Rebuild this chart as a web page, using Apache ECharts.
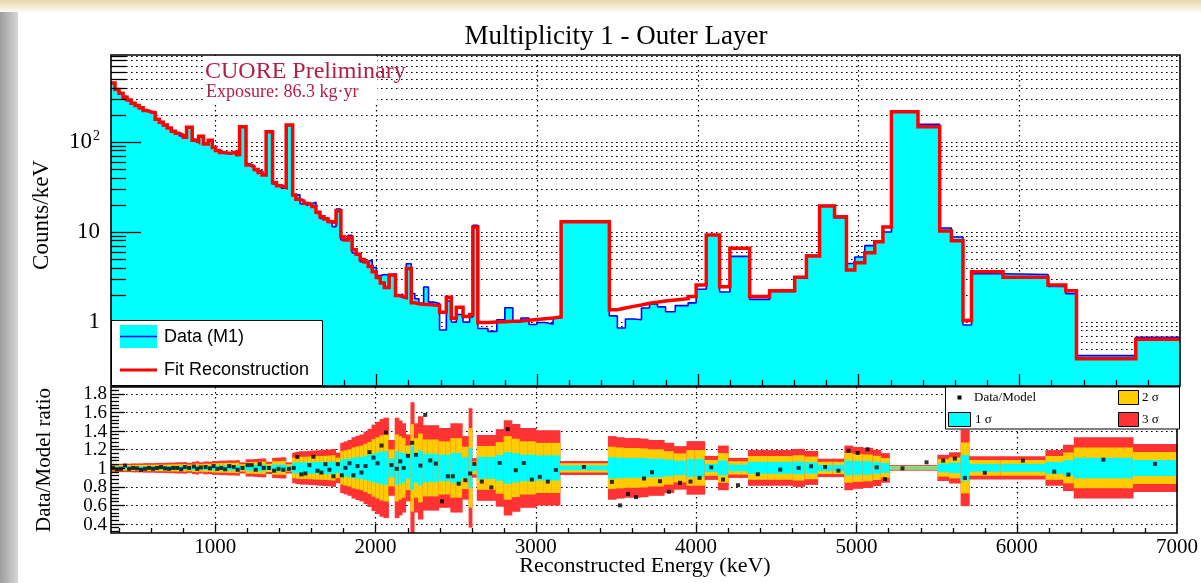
<!DOCTYPE html>
<html>
<head>
<meta charset="utf-8">
<script src="https://cdn.jsdelivr.net/npm/echarts@6/dist/echarts.min.js"></script>
<style>
  html, body { margin: 0; padding: 0; background: #ffffff; }
  #chart { width: 1201px; height: 583px; }
</style>
</head>
<body>
<div id="chart"></div>
<script>
// Variable-width energy bins (keV), shared by the spectrum and the ratio panel
const binEdges = [
  350, 375, 400, 425, 450, 475, 500, 525, 550, 575, 600, 625, 650, 675, 700, 725, 750, 775, 800,
  820, 855, 880, 895, 925, 955, 980, 1000,
  1025, 1050, 1075, 1100, 1130, 1150, 1190,
  1215, 1240, 1265, 1290, 1315, 1355, 1380, 1410, 1440, 1480,
  1500, 1525, 1550, 1575, 1600, 1625, 1650, 1675, 1700, 1725, 1750, 1780,
  1800, 1825, 1850, 1875, 1900, 1925, 1950, 1975, 2000, 2025, 2050, 2080, 2120,
  2145, 2165, 2187, 2218, 2240, 2265,
  2295, 2325, 2358, 2394, 2436, 2467, 2498, 2540, 2581, 2601, 2632,
  2695, 2750, 2800, 2850, 2900, 2950, 3000, 3050, 3100, 3150,
  3450, 3500, 3550, 3600, 3650, 3700, 3750, 3800, 3860, 3940, 3990, 4053,
  4136, 4200, 4323, 4447, 4603, 4676, 4758, 4851, 4925, 4977, 5039, 5101, 5152, 5205,
  5370, 5505, 5578, 5650, 5703, 5899, 6179, 6289, 6356, 6725, 7000
];

// Fit reconstruction, counts/keV per bin
const fitCounts = [
  450, 380, 345, 312, 290, 268, 252, 238, 222, 214,
  210, 178, 165, 153, 142, 131, 124, 118, 112, 145,
  104, 100, 115, 94, 104, 86, 80, 76, 75, 74.5,
  77, 72, 147, 55, 52.7, 49, 45.5, 42.6, 129, 35,
  32.5, 31, 153, 25.5, 23, 22, 20.7, 20, 19, 16.5,
  14.7, 13.8, 13, 12.5, 17.1, 8.8, 8.1, 8.7, 6.3, 5.6,
  4.9, 4.6, 4.1, 3.6, 3.1, 2.7, 2.4, 3.3, 1.95, 1.9,
  1.85, 3.9, 1.62, 1.58, 1.56, 1.55, 1.53, 1.52, 1.27, 1.87,
  1.09, 1.45, 1.14, 1.2, 11.3, 0.98, 0.99, 1.0, 1.01, 1.02,
  1.04, 1.06, 1.08, 1.1, 1.13, 12.9, 1.36, 1.42, 1.48, 1.53,
  1.6, 1.65, 1.7, 1.74, 1.8, 1.9, 2.56, 9.2, 2.45, 6.53,
  1.9, 2.21, 3.11, 5.37, 19.3, 14.7, 3.75, 4.52, 5.84, 7.74,
  11.3, 215, 147, 10.2, 7.93, 1.03, 3.6, 3.11, 2.56, 2.21,
  0.388, 0.64
];

// Measured spectrum (M1), counts/keV per bin
const dataCounts = [
  450, 374, 342, 320, 287, 268, 251, 233, 220, 214,
  208, 178, 167, 152, 141, 131, 124, 116, 113, 145,
  106, 99, 116, 95, 103, 88, 79, 76, 74, 76,
  78, 70.5, 147, 56.7, 54.3, 48, 47.3, 42.6, 129, 34,
  32.2, 30.4, 151.5, 25.5, 25.7, 20.5, 19.5, 20.6, 21.3, 16,
  14, 14.4, 12.7, 11.4, 17.8, 8.1, 8.1, 9.1, 5.8, 5.7,
  4.65, 4.7, 4.8, 4.0, 3.25, 3.35, 3.3, 3.4, 1.93, 2.03,
  1.85, 4.4, 2.06, 1.8, 1.6, 2.43, 1.65, 1.59, 0.81, 1.7,
  0.99, 1.2, 0.99, 1.13, 11.8, 0.84, 0.78, 1.05, 1.43, 0.99,
  1.1, 0.93, 0.98, 0.94, 1.1, 13.0, 1.16, 0.85, 1.07, 1.05,
  1.42, 1.57, 1.46, 1.29, 1.51, 1.62, 2.29, 9.25, 2.14, 5.32,
  1.77, 2.17, 3.11, 5.47, 19.5, 14.3, 4.44, 5.24, 7.0, 7.79,
  9.94, 214, 156, 11.0, 8.72, 0.92, 3.41, 3.35, 2.46, 2.05,
  0.42, 0.67
];

// Data/Model ratio per bin
const ratioValues = [
  1.0, 0.985, 0.99, 1.025, 0.99, 1.0, 0.995, 0.98, 0.99, 1.0,
  0.99, 1.0, 1.01, 0.995, 0.99, 1.0, 1.0, 0.985, 1.01, 1.0,
  1.015, 0.99, 1.005, 1.01, 0.995, 1.02, 0.99, 1.0, 0.985, 1.02,
  1.01, 0.98, 1.0, 1.03, 1.03, 0.98, 1.04, 1.0, 1.0, 0.97,
  0.99, 0.98, 0.99, 1.0, 1.118, 0.93, 0.94, 1.03, 1.12, 0.97,
  0.95, 1.04, 0.98, 0.91, 1.04, 0.92, 1.0, 1.05, 0.92, 1.02,
  0.95, 1.02, 1.17, 1.11, 1.05, 1.24, 1.38, 1.03, 0.99, 1.07,
  1.0, 1.13, 1.27, 1.14, 1.025, 1.57, 1.08, 1.046, 0.64, 0.91,
  0.91, 0.83, 0.867, 0.94, 1.043, 0.853, 0.79, 1.053, 1.417, 0.975,
  1.053, 0.875, 0.904, 0.853, 0.978, 1.01, 0.85, 0.597, 0.72, 0.686,
  0.886, 0.953, 0.857, 0.743, 0.84, 0.853, 0.893, 1.006, 0.875, 0.814,
  0.932, 0.982, 1.0, 1.018, 1.01, 0.97, 1.185, 1.16, 1.2, 1.006,
  0.88, 0.996, 1.06, 1.078, 1.1, 0.893, 0.947, 1.078, 0.96, 0.928,
  1.089, 1.043
];

// One-sigma half width of the ratio per bin (bands show 1, 2 and 3 sigma)
const sigmaRatio = [
  0.014, 0.014, 0.015, 0.015, 0.015, 0.016, 0.016, 0.016, 0.017, 0.017,
  0.017, 0.018, 0.018, 0.018, 0.019, 0.019, 0.02, 0.02, 0.021, 0.018,
  0.022, 0.024, 0.02, 0.023, 0.022, 0.025, 0.025, 0.026, 0.026, 0.027,
  0.027, 0.028, 0.02, 0.031, 0.031, 0.032, 0.033, 0.034, 0.022, 0.036,
  0.037, 0.038, 0.02, 0.055, 0.058, 0.06, 0.06, 0.061, 0.062, 0.063,
  0.064, 0.065, 0.066, 0.068, 0.055, 0.09, 0.095, 0.1, 0.11, 0.115,
  0.12, 0.13, 0.14, 0.155, 0.165, 0.175, 0.18, 0.1, 0.18, 0.17,
  0.16, 0.12, 0.235, 0.16, 0.185, 0.153, 0.153, 0.153, 0.143, 0.143,
  0.16, 0.16, 0.114, 0.214, 0.035, 0.118, 0.118, 0.139, 0.171, 0.157,
  0.143, 0.143, 0.135, 0.135, 0.135, 0.025, 0.114, 0.11, 0.107, 0.107,
  0.105, 0.1, 0.1, 0.09, 0.078, 0.096, 0.096, 0.043, 0.08, 0.036,
  0.064, 0.064, 0.068, 0.061, 0.033, 0.033, 0.08, 0.075, 0.072, 0.065,
  0.053, 0.01, 0.01, 0.047, 0.056, 0.137, 0.042, 0.042, 0.064, 0.083,
  0.11, 0.086
];

// Tick labels
const energyTickLabels = [1000, 2000, 3000, 4000, 5000, 6000, 7000];
const countsTickLabels = [1, 10, 100];
const ratioTickLabels = ['1.8', '1.6', '1.4', '1.2', '1', '0.8', '0.6', '0.4'];

// Axis ranges
const E_MIN = 350, E_MAX = 7000;
const C_MIN = 0.193, C_MAX = 919;
const R_MIN = 0.3, R_MAX = 1.87;

const SERIF = '"Liberation Serif", "DejaVu Serif", serif';
const SANS = '"Liberation Sans", Arial, sans-serif';

// Step outline of a histogram: two points per bin
function stepPoints(values) {
  const pts = [];
  for (let i = 0; i < values.length; i++) {
    pts.push([binEdges[i], values[i]]);
    pts.push([binEdges[i + 1], values[i]]);
  }
  return pts;
}

// Log-axis grid levels: 1..9 x 10^n inside the range
const countGridLevels = [];
[0.1, 1, 10, 100].forEach(function (dec) {
  for (let m = 1; m <= 9; m++) {
    const v = +(m * dec).toPrecision(3);
    if (v > C_MIN && v < C_MAX) countGridLevels.push(v);
  }
});
const energyGridLines = energyTickLabels.filter(function (e) { return e < E_MAX; });
const energyMinorTicks = [];
for (let e = 400; e < E_MAX; e += 200) energyMinorTicks.push(e);
const ratioMinorTicks = [];
for (let k = 8; k <= 46; k++) ratioMinorTicks.push(+(k * 0.04).toFixed(2));

const DOT = { stroke: '#000', lineWidth: 1.2, lineDash: [1.6, 3.4] };
const SOLID = { stroke: '#000', lineWidth: 1.3 };

function hLine(x1, x2, y, style) { return { type: 'line', shape: { x1: x1, y1: y, x2: x2, y2: y }, style: style }; }
function vLine(x, y1, y2, style) { return { type: 'line', shape: { x1: x, y1: y1, x2: x, y2: y2 }, style: style }; }

// Dotted grid of the spectrum panel
function renderTopGrid(params, api) {
  const cs = params.coordSys;
  const kids = [];
  countGridLevels.forEach(function (v) {
    const y = Math.round(api.coord([E_MIN, v])[1]) + 0.5;
    kids.push(hLine(cs.x, cs.x + cs.width, y, DOT));
  });
  energyGridLines.forEach(function (e) {
    const x = Math.round(api.coord([e, C_MIN])[0]) + 0.5;
    kids.push(vLine(x, cs.y, cs.y + cs.height, DOT));
  });
  return { type: 'group', children: kids };
}

// Ticks and frame of the spectrum panel
function renderTopAxes(params, api) {
  const cs = params.coordSys;
  const kids = [];
  const bottom = cs.y + cs.height;
  countGridLevels.forEach(function (v) {
    const y = Math.round(api.coord([E_MIN, v])[1]) + 0.5;
    const major = countsTickLabels.indexOf(v) >= 0;
    kids.push(hLine(cs.x, cs.x + (major ? 30 : 15), y, SOLID));
  });
  energyMinorTicks.forEach(function (e) {
    const x = Math.round(api.coord([e, C_MIN])[0]) + 0.5;
    const major = e % 1000 === 0;
    kids.push(vLine(x, bottom, bottom - (major ? 12 : 6), SOLID));
  });
  kids.push({ type: 'rect', shape: { x: cs.x, y: cs.y, width: cs.width, height: cs.height },
    style: { fill: null, stroke: '#000', lineWidth: 1.6 } });
  return { type: 'group', children: kids };
}

// Dotted grid of the ratio panel
function renderBottomGrid(params, api) {
  const cs = params.coordSys;
  const kids = [];
  ratioTickLabels.forEach(function (r) {
    const y = Math.round(api.coord([E_MIN, +r])[1]) + 0.5;
    kids.push(hLine(cs.x, cs.x + cs.width, y, DOT));
  });
  energyGridLines.forEach(function (e) {
    const x = Math.round(api.coord([e, R_MIN])[0]) + 0.5;
    kids.push(vLine(x, cs.y, cs.y + cs.height, DOT));
  });
  return { type: 'group', children: kids };
}

// Ticks, tick labels and frame of the ratio panel
function renderBottomAxes(params, api) {
  const cs = params.coordSys;
  const kids = [];
  const bottom = cs.y + cs.height;
  ratioMinorTicks.forEach(function (r) {
    const y = Math.round(api.coord([E_MIN, r])[1]) + 0.5;
    const major = Math.abs(r * 5 - Math.round(r * 5)) < 1e-6;
    kids.push(hLine(cs.x, cs.x + (major ? 14 : 8), y, SOLID));
  });
  ratioTickLabels.forEach(function (r) {
    const y = api.coord([E_MIN, +r])[1];
    kids.push({ type: 'text', x: cs.x - 4, y: y + 1,
      style: { text: r, font: '19px ' + SERIF, fill: '#000', align: 'right', verticalAlign: 'middle' } });
  });
  energyMinorTicks.forEach(function (e) {
    const x = Math.round(api.coord([e, R_MIN])[0]) + 0.5;
    const major = e % 1000 === 0;
    kids.push(vLine(x, bottom, bottom - (major ? 9 : 5), SOLID));
  });
  kids.push({ type: 'rect', shape: { x: cs.x, y: cs.y, width: cs.width, height: cs.height },
    style: { fill: null, stroke: '#000', lineWidth: 1.6 } });
  return { type: 'group', children: kids };
}

// 1/2/3 sigma bands of the ratio, one column per bin
const bandColors = ['#ff3333', '#ffcc00', '#00ffff'];
function renderBands(params, api) {
  const cs = params.coordSys;
  const lo = api.value(0), hi = api.value(1), s = api.value(2);
  const kids = [];
  [3, 2, 1].forEach(function (k, idx) {
    const p1 = api.coord([lo, 1 + k * s]);
    const p2 = api.coord([hi, 1 - k * s]);
    const yTop = Math.max(cs.y, p1[1]);
    const yBot = Math.min(cs.y + cs.height, p2[1]);
    kids.push({ type: 'rect', shape: { x: p1[0], y: yTop, width: p2[0] - p1[0] + 0.6, height: yBot - yTop },
      style: { fill: bandColors[idx] } });
  });
  return { type: 'group', children: kids };
}

const bandData = sigmaRatio.map(function (s, i) { return [binEdges[i], binEdges[i + 1], s]; });
const ratioPoints = ratioValues.map(function (r, i) { return [(binEdges[i] + binEdges[i + 1]) / 2, r]; });

const chart = echarts.init(document.getElementById('chart'), null, { renderer: 'canvas' });

chart.setOption({
  animation: false,
  backgroundColor: '#ffffff',
  grid: [
    { left: 111, top: 55, width: 1069, height: 331 },
    { left: 111, top: 387, width: 1069, height: 146 }
  ],
  xAxis: [
    { type: 'value', gridIndex: 0, min: E_MIN, max: E_MAX,
      axisLine: { show: false }, axisTick: { show: false }, splitLine: { show: false },
      axisLabel: { show: false } },
    { type: 'value', gridIndex: 1, min: E_MIN, max: E_MAX,
      axisLine: { show: false }, axisTick: { show: false }, splitLine: { show: false },
      axisLabel: { show: true, customValues: energyTickLabels, margin: 4,
        fontFamily: SERIF, fontSize: 21, color: '#000',
        formatter: function (v) { return String(v); } } }
  ],
  yAxis: [
    { type: 'log', gridIndex: 0, logBase: 10, min: C_MIN, max: C_MAX,
      axisLine: { show: false }, axisTick: { show: false }, splitLine: { show: false },
      axisLabel: { show: true, margin: 11, fontFamily: SERIF, fontSize: 23, color: '#000',
        formatter: function (v) {
          for (let i = 0; i < countsTickLabels.length; i++) {
            const t = countsTickLabels[i];
            if (Math.abs(v - t) / t < 1e-6) return t === 100 ? '10{sup|2}' : String(t);
          }
          return '';
        },
        rich: { sup: { fontFamily: SERIF, fontSize: 14, color: '#000', verticalAlign: 'top', padding: [0, 0, 10, 1] } }
      } },
    { type: 'value', gridIndex: 1, min: R_MIN, max: R_MAX,
      axisLine: { show: false }, axisTick: { show: false }, splitLine: { show: false },
      axisLabel: { show: false } }
  ],
  series: [
    { type: 'custom', name: 'gridTop', xAxisIndex: 0, yAxisIndex: 0, data: [[1000, 1]],
      renderItem: renderTopGrid, z: 1, silent: true },
    { type: 'line', name: 'Data (M1)', xAxisIndex: 0, yAxisIndex: 0, data: stepPoints(dataCounts),
      showSymbol: false, symbol: 'none', z: 2,
      lineStyle: { color: '#0000ff', width: 1.6 },
      areaStyle: { color: '#00ffff', opacity: 1, origin: 'start' } },
    { type: 'line', name: 'Fit Reconstruction', xAxisIndex: 0, yAxisIndex: 0, data: stepPoints(fitCounts),
      showSymbol: false, symbol: 'none', z: 3,
      lineStyle: { color: '#ff0000', width: 3.5, join: 'miter' } },
    { type: 'custom', name: 'axesTop', xAxisIndex: 0, yAxisIndex: 0, data: [[1000, 1]],
      renderItem: renderTopAxes, z: 6, silent: true },

    { type: 'custom', name: 'gridBottom', xAxisIndex: 1, yAxisIndex: 1, data: [[1000, 1]],
      renderItem: renderBottomGrid, z: 1, silent: true },
    { type: 'custom', name: 'bands', xAxisIndex: 1, yAxisIndex: 1, data: bandData,
      encode: { x: [0, 1], y: 2 }, renderItem: renderBands, z: 2, silent: true },
    { type: 'scatter', name: 'Data/Model', xAxisIndex: 1, yAxisIndex: 1, data: ratioPoints,
      symbol: 'rect', symbolSize: 4, itemStyle: { color: '#000' }, z: 4 },
    { type: 'custom', name: 'axesBottom', xAxisIndex: 1, yAxisIndex: 1, data: [[1000, 1]],
      renderItem: renderBottomAxes, z: 6, silent: true }
  ],
  graphic: [
    // page edges
    { type: 'rect', z: 0, shape: { x: 0, y: 0, width: 18, height: 583 },
      style: { fill: new echarts.graphic.LinearGradient(0, 0, 1, 0, [
        { offset: 0, color: '#9e9e9e' }, { offset: 1, color: '#d6d6d6' }]) } },
    { type: 'rect', z: 0, shape: { x: 0, y: 0, width: 1201, height: 12 },
      style: { fill: new echarts.graphic.LinearGradient(0, 0, 0, 1, [
        { offset: 0, color: '#e9d8ae' }, { offset: 1, color: '#fdfaf2' }]) } },

    // title and axis titles
    { type: 'text', z: 20, x: 616, y: 37,
      style: { text: 'Multiplicity 1 - Outer Layer', font: '27px ' + SERIF, fill: '#000', align: 'center', verticalAlign: 'middle' } },
    { type: 'text', z: 20, x: 42, y: 215, rotation: Math.PI / 2,
      style: { text: 'Counts/keV', font: '23px ' + SERIF, fill: '#000', align: 'center', verticalAlign: 'middle' } },
    { type: 'text', z: 20, x: 44, y: 460, rotation: Math.PI / 2,
      style: { text: 'Data/Model ratio', font: '21px ' + SERIF, fill: '#000', align: 'center', verticalAlign: 'middle' } },
    { type: 'text', z: 20, x: 645, y: 566,
      style: { text: 'Reconstructed Energy (keV)', font: '22px ' + SERIF, fill: '#000', align: 'center', verticalAlign: 'middle' } },

    // CUORE label
    { type: 'rect', z: 15, shape: { x: 203, y: 56, width: 174, height: 47 }, style: { fill: '#fff' } },
    { type: 'text', z: 20, x: 205, y: 72,
      style: { text: 'CUORE Preliminary', font: '24px ' + SERIF, fill: '#b41e46', align: 'left', verticalAlign: 'middle' } },
    { type: 'text', z: 20, x: 206, y: 92,
      style: { text: 'Exposure: 86.3 kg\u00b7yr', font: '18px ' + SERIF, fill: '#b41e46', align: 'left', verticalAlign: 'middle' } },

    // spectrum legend
    { type: 'rect', z: 15, shape: { x: 111.5, y: 320.5, width: 211, height: 65 },
      style: { fill: '#fff', stroke: '#000', lineWidth: 1 } },
    { type: 'rect', z: 16, shape: { x: 120, y: 325, width: 37, height: 23 }, style: { fill: '#00ffff' } },
    { type: 'line', z: 17, shape: { x1: 120, y1: 336.5, x2: 157, y2: 336.5 }, style: { stroke: '#0000ff', lineWidth: 1.5 } },
    { type: 'text', z: 17, x: 164, y: 337,
      style: { text: 'Data (M1)', font: '18px ' + SANS, fill: '#000', align: 'left', verticalAlign: 'middle' } },
    { type: 'line', z: 17, shape: { x1: 120, y1: 370, x2: 157, y2: 370 }, style: { stroke: '#ff0000', lineWidth: 3 } },
    { type: 'text', z: 17, x: 164, y: 370,
      style: { text: 'Fit Reconstruction', font: '18px ' + SANS, fill: '#000', align: 'left', verticalAlign: 'middle' } },

    // ratio legend
    { type: 'rect', z: 15, shape: { x: 945.5, y: 387, width: 234, height: 42 },
      style: { fill: '#fff', stroke: '#000', lineWidth: 1 } },
    { type: 'rect', z: 16, shape: { x: 957.5, y: 395.5, width: 4, height: 4 }, style: { fill: '#000' } },
    { type: 'text', z: 17, x: 974, y: 397.5,
      style: { text: 'Data/Model', font: '13px ' + SERIF, fill: '#000', align: 'left', verticalAlign: 'middle' } },
    { type: 'rect', z: 16, shape: { x: 1118.5, y: 390.5, width: 20, height: 14 },
      style: { fill: '#ffcc00', stroke: '#000', lineWidth: 1 } },
    { type: 'text', z: 17, x: 1142, y: 397.5,
      style: { text: '2 \u03c3', font: '13px ' + SERIF, fill: '#000', align: 'left', verticalAlign: 'middle' } },
    { type: 'rect', z: 16, shape: { x: 948.5, y: 412.5, width: 22, height: 14 },
      style: { fill: '#00ffff', stroke: '#000', lineWidth: 1 } },
    { type: 'text', z: 17, x: 975, y: 420,
      style: { text: '1 \u03c3', font: '13px ' + SERIF, fill: '#000', align: 'left', verticalAlign: 'middle' } },
    { type: 'rect', z: 16, shape: { x: 1118.5, y: 412.5, width: 20, height: 14 },
      style: { fill: '#ff3333', stroke: '#000', lineWidth: 1 } },
    { type: 'text', z: 17, x: 1142, y: 420,
      style: { text: '3 \u03c3', font: '13px ' + SERIF, fill: '#000', align: 'left', verticalAlign: 'middle' } }
  ]
});
</script>
</body>
</html>
